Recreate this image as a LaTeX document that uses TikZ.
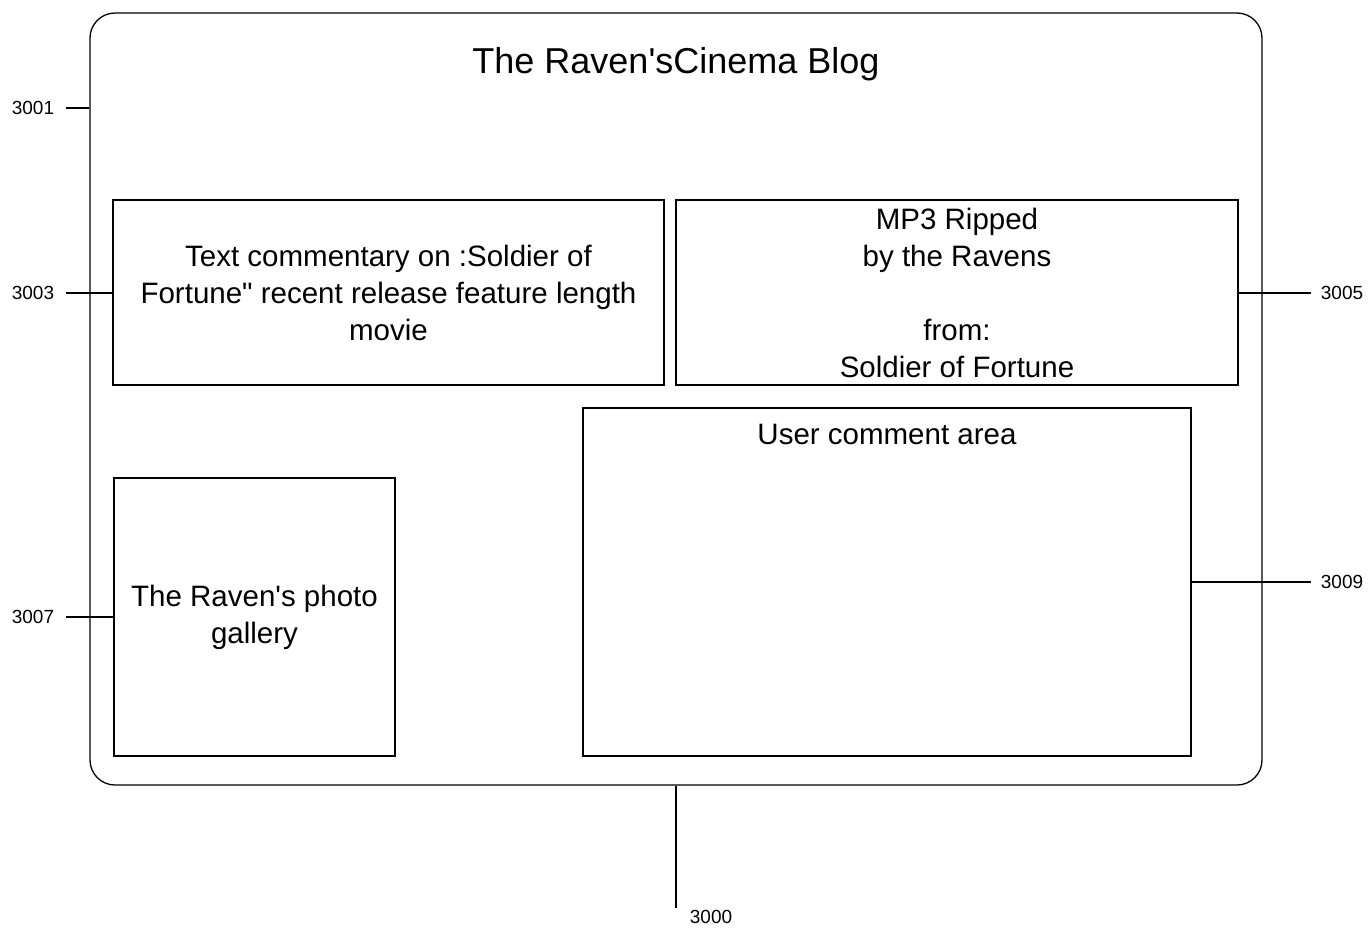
\documentclass[tikz,border=0pt]{standalone}
\usepackage{fontspec}
\setmainfont{Liberation Sans}[Ligatures=TeXOff]
\begin{document}
\begin{tikzpicture}[x=1pt,y=-1pt,
  frame/.style={draw, line width=1.3pt, inner sep=0pt},
  body/.style={align=center, font=\fontsize{29.5}{37}\selectfont},
  reflabel/.style={font=\fontsize{19}{22}\selectfont, inner sep=0pt},
  leader/.style={line width=1.2pt}]
\useasboundingbox (0,0) rectangle (1371,927);
% outer page
\node[frame, rounded corners=25pt, minimum width=1172pt, minimum height=772pt] (page) at (676,399) {};
\node[font=\fontsize{36}{40}\selectfont] (title) at (676,64) {The Raven's\hspace{0pt}Cinema Blog};
% boxes
\node[frame, body, minimum width=551pt, minimum height=185pt] (b3003) at (388.5,292.5)
  {Text commentary on :Soldier of\\Fortune" recent release feature length\\movie};
\node[frame, body, minimum width=562pt, minimum height=185pt] (b3005) at (957,292.5)
  {MP3 Ripped\\by the Ravens\\\strut\\from:\\Soldier of Fortune};
\node[frame, body, minimum width=281pt, minimum height=278pt] (b3007) at (254.5,617)
  {The Raven's photo\\gallery};
\node[frame, minimum width=608pt, minimum height=348pt] (b3009) at (887,582) {};
\node[body] (t3009) at (887,434) {User comment area};
% reference labels
\node[reflabel] (l3001) at (33,108) {3001};
\node[reflabel] (l3003) at (33,293) {3003};
\node[reflabel] (l3007) at (33,617) {3007};
\node[reflabel] (l3005) at (1342,293) {3005};
\node[reflabel] (l3009) at (1342,582) {3009};
\node[reflabel] (l3000) at (711,917) {3000};
\coordinate (c3000) at (676,908);
% leaders
\draw[leader] ([xshift=12pt]l3001.east) -- (page.west |- l3001);
\draw[leader] ([xshift=12pt]l3003.east) -- (b3003.west |- l3003);
\draw[leader] ([xshift=12pt]l3007.east) -- (b3007.west |- l3007);
\draw[leader] (b3005.east |- l3005) -- ([xshift=-10pt]l3005.west);
\draw[leader] (b3009.east |- l3009) -- ([xshift=-10pt]l3009.west);
\draw[leader] (page.south) -- (c3000);
\end{tikzpicture}
\end{document}
